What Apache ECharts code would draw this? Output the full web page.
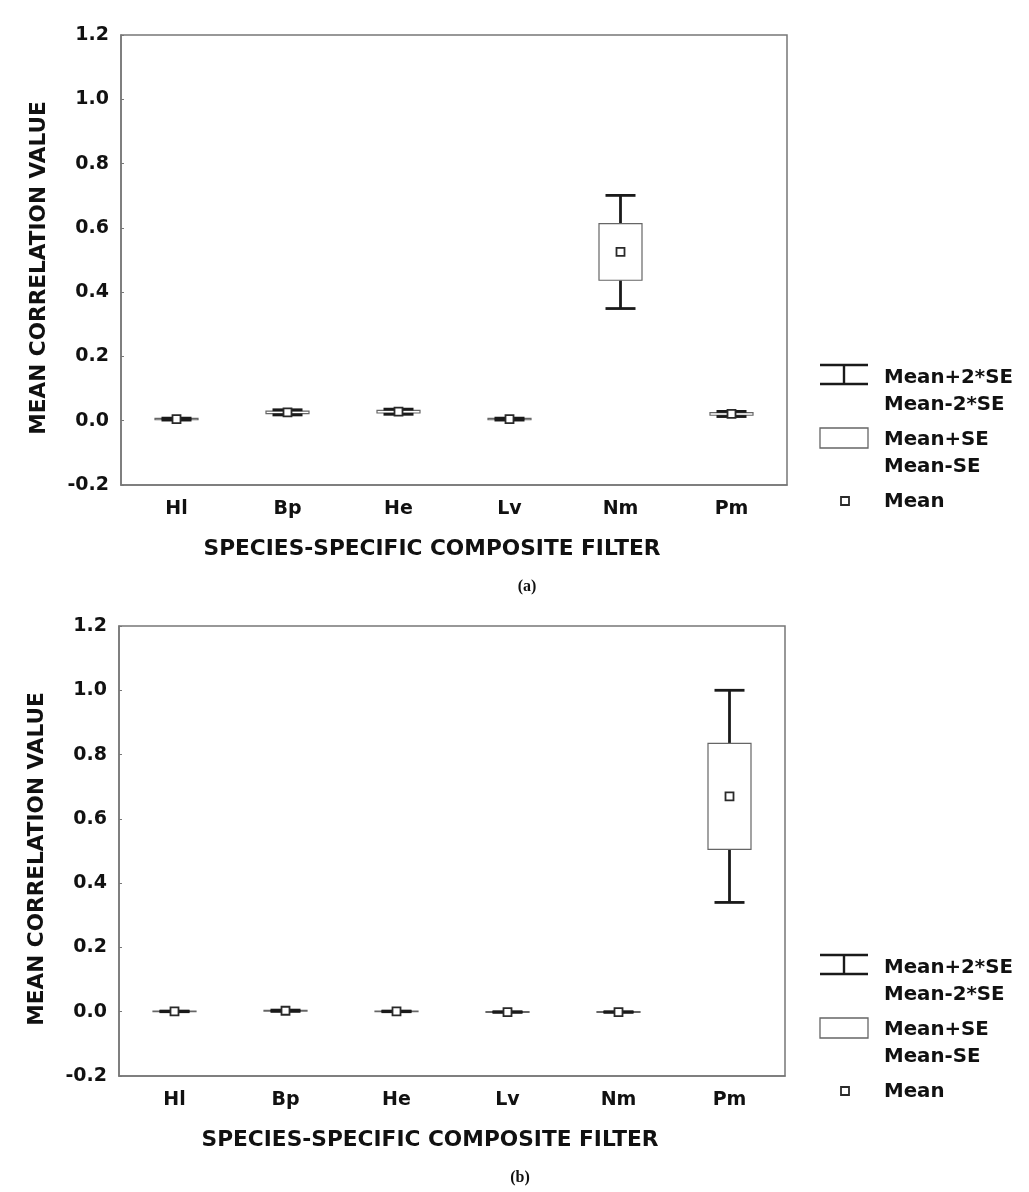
<!DOCTYPE html>
<html>
<head>
<meta charset="utf-8">
<script src="https://cdn.jsdelivr.net/npm/echarts@6/dist/echarts.min.js"></script>
<style>
html,body{margin:0;padding:0;background:#fff;}
#c{width:1029px;height:1192px;}
</style>
</head>
<body>
<div id="c"></div>
<script>
var categories = ['Hl','Bp','He','Lv','Nm','Pm'];
var yTicks = [-0.2, 1.2, 0.2];

// Panel (a)
var meanA     = [0.005, 0.026, 0.028, 0.005, 0.525, 0.021];
var boxLowA   = [0.003, 0.022, 0.024, 0.003, 0.437, 0.017];
var boxHighA  = [0.007, 0.030, 0.032, 0.007, 0.613, 0.025];
var whiskLowA = [0.002, 0.018, 0.020, 0.002, 0.349, 0.013];
var whiskHighA= [0.008, 0.034, 0.036, 0.008, 0.701, 0.029];

// Panel (b)
var meanB     = [0.001, 0.003, 0.001, -0.001, -0.001, 0.670];
var boxLowB   = [0.000, 0.002, 0.000, -0.002, -0.002, 0.505];
var boxHighB  = [0.002, 0.004, 0.002, 0.000, 0.000, 0.835];
var whiskLowB = [0.000, 0.001, 0.000, -0.002, -0.002, 0.340];
var whiskHighB= [0.002, 0.005, 0.002, 0.000, 0.000, 1.000];

var legendLabels = ['Mean+2*SE','Mean-2*SE','Mean+SE','Mean-SE','Mean'];
var panelLabels = ['(a)','(b)'];
var xName = 'SPECIES-SPECIFIC COMPOSITE FILTER';
var yName = 'MEAN CORRELATION VALUE';

var FONT = 'DejaVu Sans';
var FS = 19;

function buildData(mean, bl, bh, wl, wh){
  return categories.map(function(c,i){ return [i, mean[i], bl[i], bh[i], wl[i], wh[i]]; });
}

function renderItem(params, api){
  var i = api.value(0);
  var pm = api.coord([i, api.value(1)]);
  var pbl = api.coord([i, api.value(2)]);
  var pbh = api.coord([i, api.value(3)]);
  var pwl = api.coord([i, api.value(4)]);
  var pwh = api.coord([i, api.value(5)]);
  var x = pm[0];
  var boxW = 43, capW = 30, m = 8;
  var wStyle = {stroke:'#1a1a1a', lineWidth:2.8};
  return {type:'group', children:[
    {type:'line', shape:{x1:x, y1:pwh[1], x2:x, y2:pbh[1]}, style:wStyle},
    {type:'line', shape:{x1:x, y1:pbl[1], x2:x, y2:pwl[1]}, style:wStyle},
    {type:'rect', shape:{x:x-boxW/2, y:pbh[1], width:boxW, height:Math.max(pbl[1]-pbh[1],0.5)}, style:{fill:'#fff', stroke:'#666', lineWidth:1.2}},
    {type:'line', shape:{x1:x-capW/2, y1:pwh[1], x2:x+capW/2, y2:pwh[1]}, style:wStyle},
    {type:'line', shape:{x1:x-capW/2, y1:pwl[1], x2:x+capW/2, y2:pwl[1]}, style:wStyle},
    {type:'rect', shape:{x:x-m/2, y:pm[1]-m/2, width:m, height:m}, style:{fill:'#fff', stroke:'#2a2a2a', lineWidth:1.8}}
  ]};
}

var grids = [
  {left:121, top:35, width:666, height:450},
  {left:119, top:626, width:666, height:450}
];

function mkX(gi){
  return {type:'category', gridIndex:gi, data:categories, boundaryGap:true,
    name:xName, nameLocation:'middle', nameGap:53,
    nameTextStyle:{fontFamily:FONT, fontWeight:'bold', fontSize:21.7, color:'#111', padding:[0,44,0,0]},
    axisLine:{onZero:false, lineStyle:{color:'#777', width:1.5}},
    axisTick:{inside:true, length:3, lineStyle:{color:'#777'}},
    axisLabel:{fontFamily:FONT, fontWeight:'bold', fontSize:FS, color:'#111', margin:15},
    splitLine:{show:false}};
}
function mkY(gi){
  return {type:'value', gridIndex:gi, min:yTicks[0], max:yTicks[1], interval:yTicks[2],
    name:yName, nameLocation:'middle', nameGap:71, nameRotate:90,
    nameTextStyle:{fontFamily:FONT, fontWeight:'bold', fontSize:21.6, color:'#111', padding:[0,16,0,0]},
    axisLine:{show:true, onZero:false, lineStyle:{color:'#777', width:1.5}},
    axisTick:{show:true, inside:true, length:3, lineStyle:{color:'#777'}},
    axisLabel:{fontFamily:FONT, fontWeight:'bold', fontSize:FS, color:'#111', margin:12,
      formatter:function(v){ return v.toFixed(1); }},
    splitLine:{show:false}};
}

function legendGraphics(dy){
  var g = [];
  var lc = '#1a1a1a';
  g.push({type:'line', shape:{x1:820,y1:365+dy,x2:868,y2:365+dy}, style:{stroke:lc, lineWidth:2.4}});
  g.push({type:'line', shape:{x1:820,y1:384+dy,x2:868,y2:384+dy}, style:{stroke:lc, lineWidth:2.4}});
  g.push({type:'line', shape:{x1:844,y1:365+dy,x2:844,y2:384+dy}, style:{stroke:lc, lineWidth:2.4}});
  g.push({type:'rect', shape:{x:820,y:428+dy,width:48,height:20}, style:{fill:'#fff', stroke:'#666', lineWidth:1.3}});
  g.push({type:'rect', shape:{x:841,y:497+dy,width:8,height:8}, style:{fill:'#fff', stroke:'#2a2a2a', lineWidth:1.8}});
  var ys = [378,405,440,467,502];
  for (var k=0;k<5;k++){
    g.push({type:'text', x:884, y:ys[k]+dy, style:{text:legendLabels[k], fontFamily:FONT, fontWeight:'bold', fontSize:19.8, fill:'#111', textVerticalAlign:'middle', verticalAlign:'middle'}});
  }
  return g;
}

var graphics = legendGraphics(0).concat(legendGraphics(590));
graphics.push({type:'text', x:527, y:587, style:{text:panelLabels[0], fontFamily:'Liberation Serif', fontWeight:'bold', fontSize:16, fill:'#111', textAlign:'center', align:'center', textVerticalAlign:'middle', verticalAlign:'middle'}});
graphics.push({type:'text', x:520, y:1178, style:{text:panelLabels[1], fontFamily:'Liberation Serif', fontWeight:'bold', fontSize:16, fill:'#111', textAlign:'center', align:'center', textVerticalAlign:'middle', verticalAlign:'middle'}});

var chart = echarts.init(document.getElementById('c'), null, {renderer:'canvas'});
chart.setOption({
  animation:false,
  backgroundColor:'#fff',
  grid: grids.map(function(g){ return Object.assign({show:true, borderColor:'#777', borderWidth:1.5, backgroundColor:'transparent'}, g); }),
  xAxis:[mkX(0), mkX(1)],
  yAxis:[mkY(0), mkY(1)],
  series:[
    {type:'custom', xAxisIndex:0, yAxisIndex:0, renderItem:renderItem, data:buildData(meanA, boxLowA, boxHighA, whiskLowA, whiskHighA), encode:{x:0, y:[1,2,3,4,5]}},
    {type:'custom', xAxisIndex:1, yAxisIndex:1, renderItem:renderItem, data:buildData(meanB, boxLowB, boxHighB, whiskLowB, whiskHighB), encode:{x:0, y:[1,2,3,4,5]}}
  ],
  graphic: graphics
});
</script>
</body>
</html>
